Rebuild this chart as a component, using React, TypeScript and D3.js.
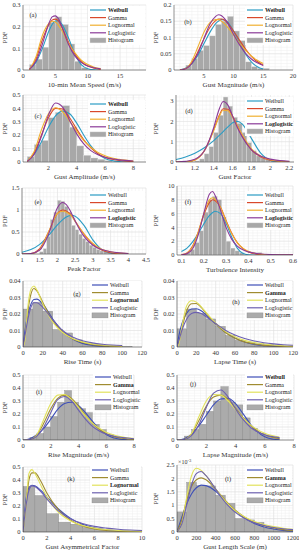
import React from "react";
import * as d3 from "d3";

// (a) 10-min mean speed
const aXTicks = [0, 5, 10, 15];
const aYTicks = [0, 0.1, 0.2, 0.3];
const aBinLefts = [1, 2, 3, 4, 5, 6, 7, 8, 9];
const aHist = [0.025, 0.05, 0.105, 0.22, 0.245, 0.21, 0.12, 0.04, 0.01];
const aX = [1, 2, 3, 4, 4.5, 5, 5.5, 6, 7, 8, 9, 10, 11, 12];
const aWeibull = [0.005, 0.035, 0.1, 0.18, 0.21, 0.226, 0.228, 0.212, 0.15, 0.075, 0.025, 0.006, 0.001, 0];
const aGamma = [0.003, 0.05, 0.14, 0.21, 0.23, 0.235, 0.225, 0.198, 0.13, 0.075, 0.038, 0.018, 0.008, 0.003];
const aLognormal = [0.001, 0.06, 0.16, 0.215, 0.225, 0.222, 0.205, 0.182, 0.125, 0.08, 0.045, 0.025, 0.013, 0.007];
const aLoglogistic = [0.003, 0.04, 0.12, 0.215, 0.245, 0.25, 0.235, 0.2, 0.12, 0.065, 0.035, 0.018, 0.01, 0.006];

// (b) gust magnitude
const bXTicks = [5, 10, 15, 20];
const bYTicks = [0, 0.05, 0.1, 0.15, 0.2];
const bBinLefts = [2, 3, 4, 5, 6, 7, 8, 9, 10, 11, 12, 13, 14, 15];
const bHist = [0.015, 0.035, 0.06, 0.075, 0.105, 0.14, 0.15, 0.165, 0.12, 0.09, 0.025, 0.01, 0.005, 0.005];
const bX = [1, 2, 3, 4, 5, 6, 7, 7.5, 8, 8.5, 9, 10, 11, 12, 13, 14, 15];
const bWeibull = [0.001, 0.006, 0.02, 0.045, 0.08, 0.115, 0.143, 0.151, 0.155, 0.154, 0.148, 0.12, 0.085, 0.05, 0.025, 0.01, 0.003];
const bGamma = [0.0005, 0.005, 0.022, 0.055, 0.095, 0.13, 0.152, 0.157, 0.157, 0.153, 0.145, 0.12, 0.092, 0.065, 0.042, 0.026, 0.015];
const bLognormal = [0, 0.004, 0.028, 0.07, 0.115, 0.145, 0.155, 0.155, 0.15, 0.142, 0.132, 0.108, 0.083, 0.061, 0.043, 0.03, 0.02];
const bLoglogistic = [0, 0.004, 0.02, 0.05, 0.095, 0.14, 0.165, 0.17, 0.167, 0.158, 0.145, 0.11, 0.078, 0.052, 0.034, 0.022, 0.014];

// (c) gust amplitude
const cXTicks = [2, 4, 6, 8];
const cYTicks = [0, 0.1, 0.2, 0.3, 0.4, 0.5];
const cBinLefts = [0.5, 1, 1.5, 2, 2.5, 3, 3.5, 4, 4.5, 5, 5.5, 6];
const cHist = [0.04, 0.13, 0.16, 0.33, 0.37, 0.42, 0.26, 0.12, 0.05, 0.03, 0.02, 0.01];
const cX = [0.5, 1, 1.5, 2, 2.5, 3, 3.5, 4, 4.5, 5, 5.5, 6, 6.5, 7, 8];
const cWeibull = [0.01, 0.06, 0.15, 0.26, 0.345, 0.38, 0.36, 0.29, 0.2, 0.12, 0.06, 0.027, 0.01, 0.004, 0];
const cGamma = [0.005, 0.07, 0.2, 0.33, 0.4, 0.395, 0.33, 0.245, 0.165, 0.105, 0.062, 0.036, 0.02, 0.011, 0.003];
const cLognormal = [0.003, 0.08, 0.24, 0.36, 0.405, 0.375, 0.305, 0.23, 0.16, 0.11, 0.072, 0.047, 0.03, 0.02, 0.008];
const cLoglogistic = [0.004, 0.06, 0.19, 0.35, 0.44, 0.41, 0.31, 0.21, 0.135, 0.085, 0.055, 0.036, 0.024, 0.016, 0.008];

// (d) gust factor
const dXTicks = [1, 1.2, 1.4, 1.6, 1.8, 2, 2.2];
const dYTicks = [0, 1, 2, 3];
const dBinLefts = [1.2, 1.25, 1.3, 1.35, 1.4, 1.45, 1.5, 1.55, 1.6, 1.65, 1.7, 1.75, 1.8, 1.85, 1.9, 1.95, 2.0, 2.05, 2.1, 2.15];
const dHist = [0.05, 0.15, 0.4, 0.75, 1.45, 2.3, 3.2, 2.75, 2.2, 1.9, 1.45, 0.95, 0.55, 0.3, 0.2, 0.12, 0.1, 0.08, 0.06, 0.04];
const dX = [1, 1.1, 1.2, 1.3, 1.4, 1.45, 1.5, 1.55, 1.6, 1.65, 1.7, 1.8, 1.9, 2, 2.1, 2.2];
const dWeibull = [0.12, 0.25, 0.43, 0.7, 1.05, 1.27, 1.5, 1.73, 1.93, 2.0, 1.88, 1.15, 0.42, 0.08, 0.01, 0];
const dGamma = [0, 0.01, 0.1, 0.55, 1.6, 2.2, 2.62, 2.6, 2.25, 1.78, 1.32, 0.6, 0.25, 0.09, 0.03, 0.01];
const dLognormal = [0, 0.01, 0.1, 0.55, 1.55, 2.15, 2.55, 2.52, 2.2, 1.78, 1.35, 0.65, 0.28, 0.11, 0.04, 0.015];
const dLoglogistic = [0, 0.03, 0.13, 0.55, 1.7, 2.5, 2.98, 2.8, 2.25, 1.7, 1.25, 0.6, 0.28, 0.14, 0.07, 0.04];

// (e) peak factor
const eXTicks = [1, 1.5, 2, 2.5, 3, 3.5, 4, 4.5];
const eYTicks = [0, 0.5, 1, 1.5];
const eBinLefts = [1.5, 1.6, 1.7, 1.8, 1.9, 2.0, 2.1, 2.2, 2.3, 2.4, 2.5, 2.6, 2.7, 2.8, 2.9, 3.0, 3.1, 3.2, 3.3, 3.4, 3.5, 3.6, 3.7];
const eHist = [0.05, 0.12, 0.4, 0.78, 0.95, 1.22, 1.2, 1.08, 0.95, 0.65, 0.55, 0.45, 0.35, 0.28, 0.2, 0.15, 0.1, 0.07, 0.05, 0.04, 0.03, 0.02, 0.02];
const eX = [1, 1.25, 1.5, 1.75, 2, 2.15, 2.25, 2.4, 2.5, 2.75, 3, 3.25, 3.5, 3.75, 4];
const eWeibull = [0.04, 0.1, 0.22, 0.42, 0.66, 0.78, 0.84, 0.88, 0.86, 0.65, 0.32, 0.1, 0.02, 0.003, 0];
const eGamma = [0, 0.01, 0.12, 0.5, 0.92, 1.0, 0.98, 0.88, 0.75, 0.45, 0.22, 0.09, 0.03, 0.01, 0.003];
const eLognormal = [0, 0.005, 0.1, 0.5, 0.92, 0.97, 0.95, 0.86, 0.74, 0.46, 0.24, 0.11, 0.05, 0.02, 0.008];
const eLoglogistic = [0, 0.01, 0.09, 0.45, 1.05, 1.17, 1.12, 0.92, 0.75, 0.4, 0.2, 0.1, 0.05, 0.025, 0.013];

// (f) turbulence intensity
const fXTicks = [0.1, 0.2, 0.3, 0.4, 0.5, 0.6];
const fYTicks = [0, 2, 4, 6, 8, 10];
const fBinLefts = [0.12, 0.14, 0.16, 0.18, 0.2, 0.22, 0.24, 0.26, 0.28, 0.3, 0.32, 0.34, 0.36, 0.44, 0.46];
const fHist = [0.3, 0.8, 1.8, 3.5, 6.2, 8.0, 8.5, 8.0, 5.5, 2.0, 1.0, 0.6, 0.3, 0.35, 0.1];
const fX = [0.1, 0.125, 0.15, 0.175, 0.2, 0.225, 0.24, 0.25, 0.275, 0.3, 0.325, 0.35, 0.375, 0.4, 0.45, 0.5, 0.6];
const fWeibull = [0.5, 1.0, 1.9, 3.1, 4.5, 5.7, 6.15, 6.35, 6.0, 4.6, 2.6, 1.0, 0.25, 0.04, 0, 0, 0];
const fGamma = [0.05, 0.3, 1.3, 3.3, 5.8, 7.6, 8.0, 7.9, 6.9, 5.0, 3.2, 1.8, 0.95, 0.45, 0.08, 0.01, 0];
const fLognormal = [0.02, 0.25, 1.2, 3.3, 6.0, 8.0, 8.3, 8.1, 6.9, 4.9, 3.1, 1.8, 1.0, 0.55, 0.15, 0.04, 0.005];
const fLoglogistic = [0.03, 0.2, 0.9, 2.9, 6.0, 8.8, 9.2, 8.7, 6.5, 4.0, 2.3, 1.3, 0.75, 0.45, 0.17, 0.07, 0.02];

// (g) rise time
const gXTicks = [0, 20, 40, 60, 80, 100, 120];
const gYTicks = [0, 0.01, 0.02, 0.03, 0.04];
const gBinLefts = [0, 10, 20, 30, 40, 50, 60, 70, 80, 90, 100];
const gHist = [0.023, 0.027, 0.0217, 0.0106, 0.0085, 0.0043, 0.002, 0.0015, 0.001, 0.0005, 0.0003];
const gX = [0, 2, 5, 8, 11, 14, 20, 30, 40, 50, 60, 70, 80, 90, 100];
const gWeibull = [0, 0.01, 0.02, 0.026, 0.0288, 0.029, 0.026, 0.017, 0.0095, 0.0048, 0.0022, 0.001, 0.0004, 0.0002, 0.0001];
const gGamma = [0, 0.006, 0.022, 0.032, 0.0355, 0.034, 0.027, 0.016, 0.009, 0.005, 0.0027, 0.0014, 0.0007, 0.0004, 0.0002];
const gLognormal = [0, 0.004, 0.025, 0.035, 0.037, 0.0345, 0.026, 0.015, 0.0088, 0.0052, 0.0031, 0.0019, 0.0012, 0.0008, 0.0005];
const gLoglogistic = [0, 0.007, 0.017, 0.024, 0.0268, 0.0268, 0.024, 0.0165, 0.01, 0.006, 0.0038, 0.0025, 0.0017, 0.0012, 0.0009];

// (h) lapse time
const hXTicks = [0, 20, 40, 60, 80, 100, 120];
const hYTicks = [0, 0.01, 0.02, 0.03, 0.04];
const hBinLefts = [0, 10, 20, 30, 40, 50, 60, 70, 80, 90, 100, 110];
const hHist = [0.011, 0.023, 0.0205, 0.017, 0.0125, 0.007, 0.004, 0.003, 0.002, 0.0015, 0.001, 0.0005];
const hX = [0, 2, 5, 10, 15, 20, 25, 30, 40, 50, 60, 70, 80, 90, 100, 110, 120];
const hWeibull = [0, 0.007, 0.014, 0.0205, 0.023, 0.0232, 0.022, 0.0195, 0.014, 0.009, 0.0055, 0.003, 0.0016, 0.0008, 0.0004, 0.0002, 0.0001];
const hGamma = [0, 0.003, 0.011, 0.022, 0.0262, 0.0264, 0.024, 0.0205, 0.014, 0.0088, 0.0053, 0.0031, 0.0018, 0.001, 0.0006, 0.0003, 0.0002];
const hLognormal = [0, 0.002, 0.012, 0.025, 0.028, 0.0272, 0.0245, 0.021, 0.0145, 0.0095, 0.0062, 0.004, 0.0027, 0.0018, 0.0012, 0.0008, 0.0006];
const hLoglogistic = [0, 0.004, 0.01, 0.017, 0.0203, 0.021, 0.0203, 0.0185, 0.0142, 0.0102, 0.0072, 0.0051, 0.0036, 0.0026, 0.0019, 0.0014, 0.0011];

// (i) rise magnitude
const iXTicks = [0, 2, 4, 6, 8];
const iYTicks = [0, 0.1, 0.2, 0.3, 0.4, 0.5];
const iBinLefts = [0.5, 1, 1.5, 2, 2.5, 3, 3.5, 4, 4.5, 5, 5.5, 6, 6.5, 7];
const iHist = [0.02, 0.05, 0.1, 0.18, 0.29, 0.38, 0.29, 0.24, 0.21, 0.12, 0.08, 0.04, 0.02, 0.01];
const iX = [0, 0.5, 1, 1.5, 2, 2.5, 3, 3.5, 4, 4.5, 5, 5.5, 6, 6.5, 7, 7.5, 8];
const iWeibull = [0, 0.01, 0.04, 0.09, 0.16, 0.235, 0.28, 0.29, 0.265, 0.21, 0.145, 0.085, 0.043, 0.018, 0.006, 0.002, 0];
const iGamma = [0, 0.004, 0.04, 0.13, 0.24, 0.32, 0.345, 0.32, 0.26, 0.19, 0.13, 0.083, 0.05, 0.028, 0.016, 0.008, 0.004];
const iLognormal = [0, 0.001, 0.04, 0.16, 0.28, 0.345, 0.35, 0.31, 0.25, 0.185, 0.13, 0.09, 0.06, 0.04, 0.026, 0.017, 0.011];
const iLoglogistic = [0, 0.003, 0.03, 0.1, 0.21, 0.31, 0.335, 0.3, 0.23, 0.16, 0.105, 0.07, 0.046, 0.031, 0.021, 0.015, 0.01];

// (j) lapse magnitude
const jXTicks = [0, 2, 4, 6, 8];
const jYTicks = [0, 0.1, 0.2, 0.3, 0.4, 0.5];
const jBinLefts = [0.5, 1, 1.5, 2, 2.5, 3, 3.5, 4, 4.5, 5, 5.5, 6, 6.5];
const jHist = [0.03, 0.08, 0.12, 0.22, 0.3, 0.41, 0.29, 0.27, 0.17, 0.09, 0.05, 0.03, 0.02];
const jX = [0, 0.5, 1, 1.5, 2, 2.5, 3, 3.5, 4, 4.5, 5, 5.5, 6, 6.5, 7];
const jWeibull = [0, 0.01, 0.045, 0.11, 0.19, 0.27, 0.315, 0.32, 0.28, 0.205, 0.125, 0.062, 0.025, 0.008, 0.002];
const jGamma = [0, 0.005, 0.05, 0.15, 0.26, 0.33, 0.345, 0.31, 0.245, 0.175, 0.115, 0.07, 0.04, 0.022, 0.012];
const jLognormal = [0, 0.002, 0.05, 0.18, 0.3, 0.35, 0.345, 0.3, 0.235, 0.17, 0.118, 0.08, 0.052, 0.034, 0.022];
const jLoglogistic = [0, 0.004, 0.035, 0.12, 0.25, 0.36, 0.385, 0.33, 0.24, 0.16, 0.1, 0.064, 0.041, 0.027, 0.018];

// (k) gust asymmetrical factor
const kXTicks = [0, 2, 4, 6, 8, 10];
const kYTicks = [0, 0.1, 0.2, 0.3, 0.4, 0.5];
const kBinLefts = [0, 1, 2, 3, 4, 5, 6, 7, 8, 9];
const kHist = [0.35, 0.28, 0.14, 0.075, 0.06, 0.035, 0.02, 0.012, 0.007, 0.004];
const kX = [0, 0.25, 0.5, 0.75, 1, 1.5, 2, 3, 4, 5, 6, 7, 8, 9, 10];
const kWeibull = [0, 0.25, 0.34, 0.36, 0.355, 0.32, 0.27, 0.175, 0.105, 0.06, 0.033, 0.017, 0.009, 0.004, 0.002];
const kGamma = [0, 0.2, 0.4, 0.455, 0.455, 0.39, 0.3, 0.17, 0.09, 0.047, 0.024, 0.012, 0.006, 0.003, 0.0015];
const kLognormal = [0, 0.2, 0.45, 0.48, 0.45, 0.36, 0.27, 0.15, 0.085, 0.05, 0.03, 0.019, 0.012, 0.008, 0.005];
const kLoglogistic = [0, 0.2, 0.32, 0.355, 0.35, 0.31, 0.255, 0.16, 0.1, 0.065, 0.043, 0.03, 0.021, 0.015, 0.011];

// (l) gust length scale, values in 1e-3
const lXTicks = [0, 200, 400, 600, 800, 1000, 1200];
const lYTicks = [0, 0.5, 1, 1.5, 2, 2.5];
const lBinLefts = [0, 100, 200, 300, 400, 500, 600, 700, 800, 900, 1000, 1100];
const lHist = [0.75, 1.85, 1.73, 1.72, 1.37, 1.07, 0.5, 0.45, 0.36, 0.15, 0.1, 0.06];
const lX = [0, 50, 100, 150, 200, 250, 300, 400, 500, 600, 700, 800, 900, 1000, 1100, 1200];
const lWeibull = [0, 0.55, 1.05, 1.42, 1.65, 1.75, 1.73, 1.52, 1.15, 0.8, 0.52, 0.32, 0.19, 0.11, 0.06, 0.03];
const lGamma = [0, 0.45, 1.2, 1.7, 1.95, 2.02, 1.95, 1.6, 1.18, 0.82, 0.55, 0.36, 0.23, 0.15, 0.09, 0.06];
const lLognormal = [0, 0.3, 1.3, 2.1, 2.38, 2.3, 2.1, 1.6, 1.15, 0.8, 0.56, 0.39, 0.28, 0.2, 0.14, 0.1];
const lLoglogistic = [0, 0.3, 1.0, 1.75, 2.18, 2.26, 2.1, 1.6, 1.1, 0.74, 0.5, 0.34, 0.24, 0.17, 0.12, 0.09];

const NAMES = ["Weibull", "Gamma", "Lognormal", "Loglogistic"];
const SET1 = ["#2b9cc4", "#d9482b", "#f0b030", "#8b3a98"];
const SET2 = ["#3e4fb8", "#a08c30", "#e2e25c", "#6c60b0"];

const panels = [
  { tag: "(a)", xLabel: "10-min Mean Speed (m/s)", box: [23, 146, 5, 70], xDomain: [0, 19], yDomain: [0, 0.3], xTicks: aXTicks, yTicks: aYTicks, lefts: aBinLefts, bw: 1, hist: aHist, xs: aX, curves: [aWeibull, aGamma, aLognormal, aLoglogistic], bold: 0, set: 1, legend: [90, 10], tagAt: [33, 16] },
  { tag: "(b)", xLabel: "Gust Magnitude (m/s)", box: [174, 293, 5, 70], xDomain: [0, 20], yDomain: [0, 0.2], xTicks: bXTicks, yTicks: bYTicks, lefts: bBinLefts, bw: 1, hist: bHist, xs: bX, curves: [bWeibull, bGamma, bLognormal, bLoglogistic], bold: 0, set: 1, legend: [247, 10], tagAt: [188, 23] },
  { tag: "(c)", xLabel: "Gust Amplitude (m/s)", box: [23, 146, 95, 162], xDomain: [0.2, 8.9], yDomain: [0, 0.5], xTicks: cXTicks, yTicks: cYTicks, lefts: cBinLefts, bw: 0.5, hist: cHist, xs: cX, curves: [cWeibull, cGamma, cLognormal, cLoglogistic], bold: 0, set: 1, legend: [90, 104], tagAt: [38, 117] },
  { tag: "(d)", xLabel: "Gust Factor", box: [176, 294, 95, 162], xDomain: [1, 2.25], yDomain: [0, 3.3], xTicks: dXTicks, yTicks: dYTicks, lefts: dBinLefts, bw: 0.05, hist: dHist, xs: dX, curves: [dWeibull, dGamma, dLognormal, dLoglogistic], bold: 3, set: 1, legend: [247, 101], tagAt: [189, 112] },
  { tag: "(e)", xLabel: "Peak Factor", box: [22, 146, 188, 254], xDomain: [1, 4.5], yDomain: [0, 1.5], xTicks: eXTicks, yTicks: eYTicks, lefts: eBinLefts, bw: 0.1, hist: eHist, xs: eX, curves: [eWeibull, eGamma, eLognormal, eLoglogistic], bold: 3, set: 1, legend: [90, 195], tagAt: [38, 203] },
  { tag: "(f)", xLabel: "Turbulence Intensity", box: [177, 293, 186, 255], xDomain: [0.08, 0.6], yDomain: [0, 10], xTicks: fXTicks, yTicks: fYTicks, lefts: fBinLefts, bw: 0.02, hist: fHist, xs: fX, curves: [fWeibull, fGamma, fLognormal, fLoglogistic], bold: 3, set: 1, legend: [247, 195], tagAt: [188, 203] },
  { tag: "(g)", xLabel: "Rise Time (s)", box: [23, 142, 281, 347], xDomain: [0, 120], yDomain: [0, 0.04], xTicks: gXTicks, yTicks: gYTicks, lefts: gBinLefts, bw: 10, hist: gHist, xs: gX, curves: [gWeibull, gGamma, gLognormal, gLoglogistic], bold: 2, set: 2, legend: [92, 285], tagAt: [77, 295] },
  { tag: "(h)", xLabel: "Lapse Time (s)", box: [177, 293, 281, 347], xDomain: [0, 120], yDomain: [0, 0.04], xTicks: hXTicks, yTicks: hYTicks, lefts: hBinLefts, bw: 10, hist: hHist, xs: hX, curves: [hWeibull, hGamma, hLognormal, hLoglogistic], bold: 1, set: 2, legend: [247, 285], tagAt: [236, 303] },
  { tag: "(i)", xLabel: "Rise Magnitude (m/s)", box: [23, 134, 375, 440], xDomain: [0, 8], yDomain: [0, 0.5], xTicks: iXTicks, yTicks: iYTicks, lefts: iBinLefts, bw: 0.5, hist: iHist, xs: iX, curves: [iWeibull, iGamma, iLognormal, iLoglogistic], bold: 1, set: 2, legend: [95, 377], tagAt: [39, 393] },
  { tag: "(j)", xLabel: "Lapse Magnitude (m/s)", box: [177, 294, 375, 440], xDomain: [0, 8], yDomain: [0, 0.5], xTicks: jXTicks, yTicks: jYTicks, lefts: jBinLefts, bw: 0.5, hist: jHist, xs: jX, curves: [jWeibull, jGamma, jLognormal, jLoglogistic], bold: 0, set: 2, legend: [247, 377], tagAt: [193, 385] },
  { tag: "(k)", xLabel: "Gust Asymmetrical Factor", box: [23, 142, 467, 532], xDomain: [0, 10], yDomain: [0, 0.5], xTicks: kXTicks, yTicks: kYTicks, lefts: kBinLefts, bw: 1, hist: kHist, xs: kX, curves: [kWeibull, kGamma, kLognormal, kLoglogistic], bold: 2, set: 2, legend: [92, 470], tagAt: [71, 480] },
  { tag: "(l)", xLabel: "Gust Length Scale (m)", box: [177, 293, 465, 532], xDomain: [0, 1200], yDomain: [0, 2.5], xTicks: lXTicks, yTicks: lYTicks, lefts: lBinLefts, bw: 100, hist: lHist, xs: lX, curves: [lWeibull, lGamma, lLognormal, lLoglogistic], bold: 1, set: 2, legend: [247, 470], tagAt: [228, 480], exponent: true },
];

const fmt = (v: number) => String(+v.toFixed(6));

function Panel({ p }: { p: any }) {
  const [x0, x1, y0, y1] = p.box;
  const x = d3.scaleLinear().domain(p.xDomain).range([x0, x1]);
  const y = d3.scaleLinear().domain(p.yDomain).range([y1, y0]);
  const colors = p.set === 1 ? SET1 : SET2;
  const histFill = p.set === 1 ? "#a8a8a8" : "#ababab";
  const histStroke = p.set === 1 ? "#dcdcdc" : "#8a8a8a";
  const xStep = p.xTicks[1] - p.xTicks[0];
  const yStep = p.yTicks[1] - p.yTicks[0];
  const xMinor = d3.range(p.xTicks[0] - xStep * 2, p.xDomain[1] + 1e-9, xStep / 5).filter((v) => v >= p.xDomain[0] - 1e-9);
  const yMinor = d3.range(p.yDomain[0], p.yDomain[1] + 1e-9, yStep / 5);
  const line = d3
    .line<number>()
    .x((d, i) => x(p.xs[i]))
    .y((d) => y(d))
    .curve(d3.curveMonotoneX);
  const clipId = "clip" + p.tag.replace(/\W/g, "");
  const [lx, ly] = p.legend;
  const rowH = 7.6;
  const yLabelX = x0 < 100 ? 6 : 157;

  return (
    <g>
      <defs>
        <clipPath id={clipId}>
          <rect x={x0} y={y0} width={x1 - x0} height={y1 - y0} />
        </clipPath>
      </defs>
      <rect x={x0} y={y0} width={x1 - x0} height={y1 - y0} fill="#fff" />
      {xMinor.map((v, i) => (
        <line key={"xm" + i} x1={x(v)} x2={x(v)} y1={y0} y2={y1} stroke="#efefef" strokeWidth={0.5} />
      ))}
      {yMinor.map((v, i) => (
        <line key={"ym" + i} x1={x0} x2={x1} y1={y(v)} y2={y(v)} stroke="#efefef" strokeWidth={0.5} />
      ))}
      {p.xTicks.map((v: number) => (
        <line key={"xg" + v} x1={x(v)} x2={x(v)} y1={y0} y2={y1} stroke="#dedede" strokeWidth={0.5} />
      ))}
      {p.yTicks.map((v: number) => (
        <line key={"yg" + v} x1={x0} x2={x1} y1={y(v)} y2={y(v)} stroke="#dedede" strokeWidth={0.5} />
      ))}
      <g clipPath={`url(#${clipId})`}>
        {p.hist.map((h: number, i: number) => (
          <rect
            key={"h" + i}
            x={x(p.lefts[i])}
            width={x(p.lefts[i] + p.bw) - x(p.lefts[i])}
            y={y(h)}
            height={y(0) - y(h)}
            fill={histFill}
            stroke={histStroke}
            strokeWidth={0.4}
          />
        ))}
        {p.curves.map((c: number[], k: number) => (
          <path key={"c" + k} d={line(c) || ""} fill="none" stroke={colors[k]} strokeWidth={1.1} />
        ))}
      </g>
      <line x1={x0} x2={x0} y1={y0} y2={y1} stroke="#333" strokeWidth={0.5} />
      <line x1={x0} x2={x1} y1={y1} y2={y1} stroke="#333" strokeWidth={0.5} />
      {p.xTicks.map((v: number) => (
        <text key={"xt" + v} x={x(v)} y={y1 + 8} fontSize={6.5} textAnchor="middle" fill="#333">
          {fmt(v)}
        </text>
      ))}
      {p.yTicks.map((v: number) => (
        <text key={"yt" + v} x={x0 - 2.5} y={y(v) + 2.2} fontSize={6.5} textAnchor="end" fill="#333">
          {fmt(v)}
        </text>
      ))}
      <text x={(x0 + x1) / 2} y={y1 + 16.5} fontSize={7} textAnchor="middle" fill="#333">
        {p.xLabel}
      </text>
      <text transform={`translate(${yLabelX},${(y0 + y1) / 2}) rotate(-90)`} fontSize={6.5} textAnchor="middle" dominantBaseline="middle" fill="#333">
        PDF
      </text>
      {p.exponent && (
        <text x={x0 + 1} y={y0 - 1} fontSize={6} fill="#333">
          ×10
          <tspan dy={-2.5} fontSize={4.5}>-3</tspan>
        </text>
      )}
      <text x={p.tagAt[0]} y={p.tagAt[1]} fontSize={6.5} textAnchor="middle" dominantBaseline="middle" fill="#222">
        {p.tag}
      </text>
      <rect x={lx - 2} y={ly - 4} width={x1 - lx + 1} height={rowH * 5 + 1} fill="#fff" />
      {NAMES.map((n, k) => (
        <g key={n}>
          <line x1={lx} x2={lx + 16} y1={ly + k * rowH} y2={ly + k * rowH} stroke={colors[k]} strokeWidth={1.2} />
          <text x={lx + 18} y={ly + k * rowH + 2} fontSize={6} fontWeight={p.bold === k ? "bold" : "normal"} fill="#222">
            {n}
          </text>
        </g>
      ))}
      <rect x={lx} y={ly + 4 * rowH - 2.5} width={16} height={5} fill={histFill} stroke={histStroke} strokeWidth={0.4} />
      <text x={lx + 18} y={ly + 4 * rowH + 2} fontSize={6} fill="#222">
        Histogram
      </text>
    </g>
  );
}

export default function App() {
  return (
    <div style={{ position: "absolute", left: 0, top: 0 }}>
      <svg width={299} height={550} style={{ display: "block", background: "#fff" }} fontFamily="'Liberation Serif', 'Times New Roman', serif">
        {panels.map((p) => (
          <Panel key={p.tag} p={p} />
        ))}
      </svg>
    </div>
  );
}
